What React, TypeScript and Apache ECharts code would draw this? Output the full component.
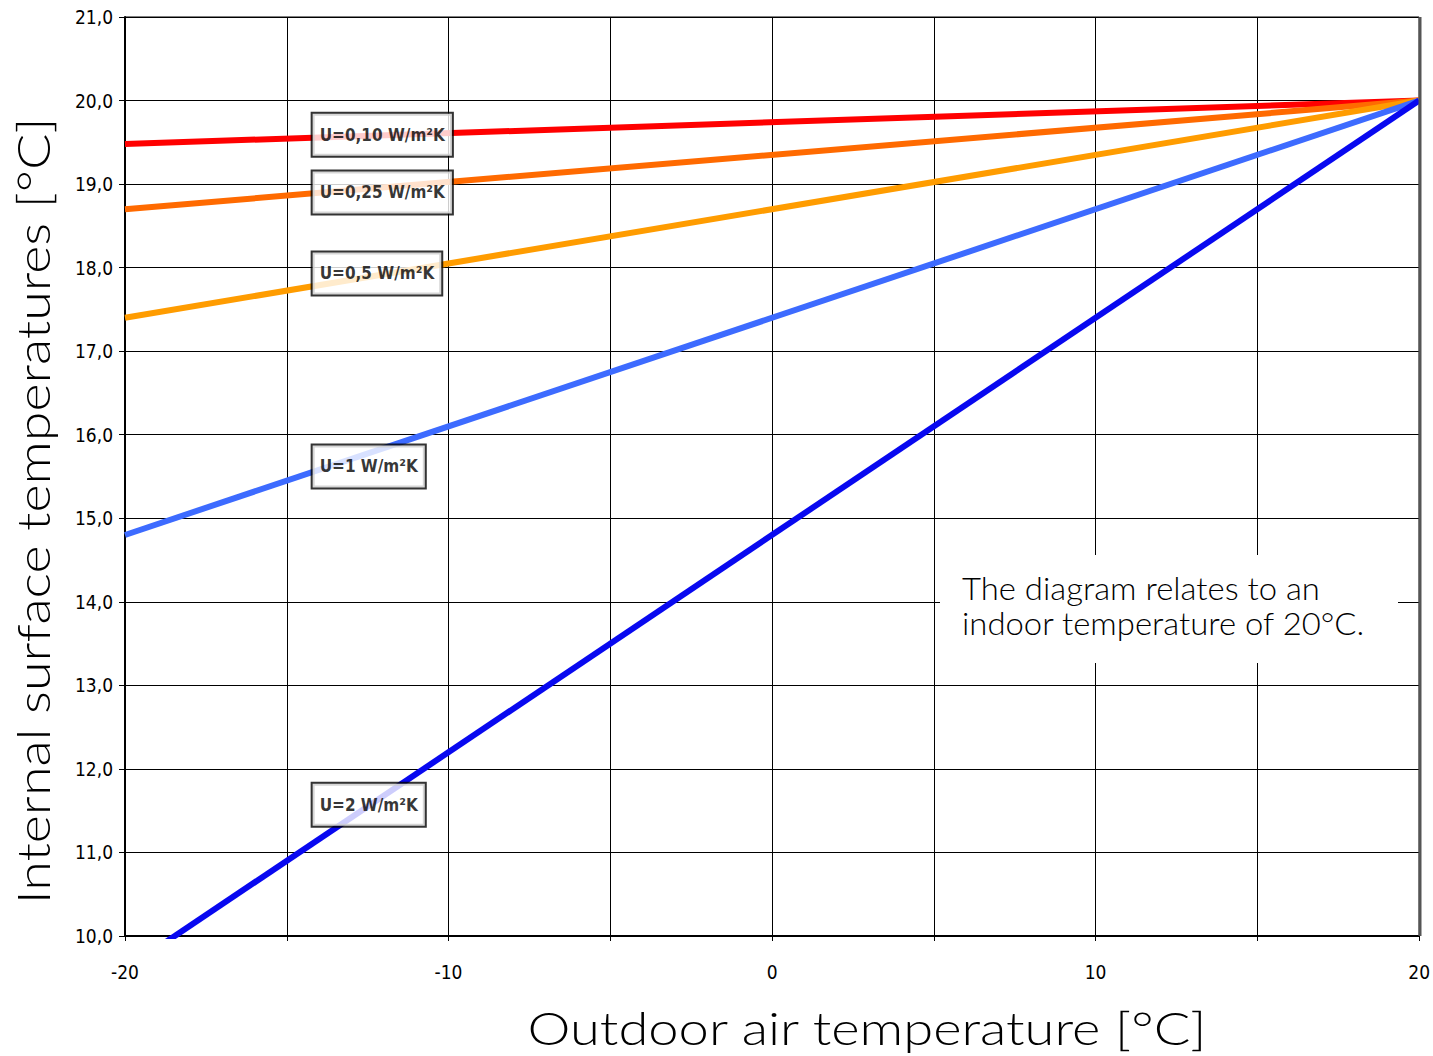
import React, { useEffect, useRef } from "react";
import * as echarts from "echarts";

const outdoorTemps = [-20, 20];
const seriesNames = ["U=0,10 W/m²K", "U=0,25 W/m²K", "U=0,5 W/m²K", "U=1 W/m²K", "U=2 W/m²K"];
const u010 = [19.48, 20.0];
const u025 = [18.7, 20.0];
const u05 = [17.4, 20.0];
const u1 = [14.8, 20.0];
const u2 = [9.6, 20.0];
const seriesValues = [u010, u025, u05, u1, u2];
const seriesColors = ["#ff0000", "#ff6a00", "#ff9c00", "#3d6bff", "#0808f0"];
const labelX = [-14.2, -14.2, -14.2, -14.2, -14.2];
const labelY = [19.59, 18.9, 17.93, 15.62, 11.57];

const yTitle = "Internal surface temperatures [°C]";
const xTitle = "Outdoor air temperature [°C]";
const noteLines = ["The diagram relates to an", "indoor temperature of 20°C."];

const narrow = "'Liberation Sans Narrow', 'DejaVu Sans Condensed', 'Arial Narrow', sans-serif";
const gothic = "Lato, 'Noto Sans', sans-serif";

export default function App() {
  const ref = useRef<HTMLDivElement>(null);
  useEffect(() => {
    if (!ref.current) return;
    const chart = echarts.init(ref.current, undefined, { renderer: "svg" });
    const lineSeries = seriesValues.map((vals, i) => ({
      type: "line",
      name: seriesNames[i],
      data: outdoorTemps.map((x, j) => [x, vals[j]]),
      symbol: "none",
      clip: true,
      lineStyle: { color: seriesColors[i], width: 6 },
      z: 3 + i,
    }));
    const labelSeries = {
      type: "scatter",
      name: "labels",
      symbolSize: 0,
      silent: true,
      z: 20,
      itemStyle: { color: "transparent" },
      data: seriesNames.map((n, i) => ({ name: n, value: [labelX[i], labelY[i]] })),
      label: {
        show: true,
        position: "right",
        distance: 0,
        formatter: (p: any) => p.name,
        color: "#000",
        fontFamily: narrow,
        fontWeight: "bold",
        fontSize: 17,
        backgroundColor: "#fff",
        borderColor: "#000",
        borderWidth: 2,
        textBorderWidth: 0,
        textShadowBlur: 0,
        shadowBlur: 0,
        padding: [13, 7, 12, 7],
      },
    };
    chart.setOption({
      animation: false,
      backgroundColor: "#fff",
      grid: {
        left: 125,
        right: 13,
        top: 17,
        bottom: 120,
        show: true,
        borderColor: "#000",
        borderWidth: 1,
      },
      xAxis: {
        type: "value",
        min: -20,
        max: 20,
        interval: 5,
        axisLine: { show: true, onZero: false, lineStyle: { color: "#000", width: 2 } },
        axisTick: { show: true, length: 5, lineStyle: { color: "#000" } },
        splitLine: { show: true, lineStyle: { color: "#000", width: 1 } },
        axisLabel: {
          margin: 26,
          color: "#000",
          fontFamily: narrow,
          fontSize: 19,
          formatter: (v: number) => (v % 10 === 0 ? String(v) : ""),
        },
      },
      yAxis: {
        type: "value",
        min: 10,
        max: 21,
        interval: 1,
        axisLine: { show: true, onZero: false, lineStyle: { color: "#000", width: 2 } },
        axisTick: { show: true, length: 6, lineStyle: { color: "#000" } },
        splitLine: { show: true, lineStyle: { color: "#000", width: 1 } },
        axisLabel: {
          margin: 12,
          color: "#000",
          fontFamily: narrow,
          fontSize: 19,
          formatter: (v: number) => v.toFixed(1).replace(".", ","),
        },
      },
      graphic: [
        {
          type: "line",
          shape: { x1: 1420, y1: 17, x2: 1420, y2: 936 },
          style: { stroke: "#555", lineWidth: 3 },
          z: 10,
        },
        {
          type: "rect",
          shape: { x: 940, y: 555, width: 458, height: 108 },
          style: { fill: "#fff" },
          z: 20,
        },
        {
          type: "text",
          x: 962,
          y: 570,
          scaleX: 1.06,
          z: 21,
          style: {
            text: noteLines.join("\n"),
            font: `300 31px ${gothic}`,
            lineHeight: 35,
            fill: "#000",
          },
        },
        {
          type: "text",
          x: 33,
          y: 511,
          rotation: Math.PI / 2,
          scaleX: 1.17,
          z: 21,
          style: {
            text: yTitle,
            font: `300 46px ${gothic}`,
            fill: "#000",
            align: "center",
            verticalAlign: "middle",
          },
        },
        {
          type: "text",
          x: 867,
          y: 1027,
          scaleX: 1.18,
          z: 21,
          style: {
            text: xTitle,
            font: `300 46px ${gothic}`,
            fill: "#000",
            align: "center",
            verticalAlign: "middle",
          },
        },
      ],
      series: [...lineSeries, labelSeries],
    });
    return () => chart.dispose();
  }, []);
  return (
    <div
      ref={ref}
      style={{ position: "absolute", left: 0, top: 0, width: 1433, height: 1056 }}
    />
  );
}
